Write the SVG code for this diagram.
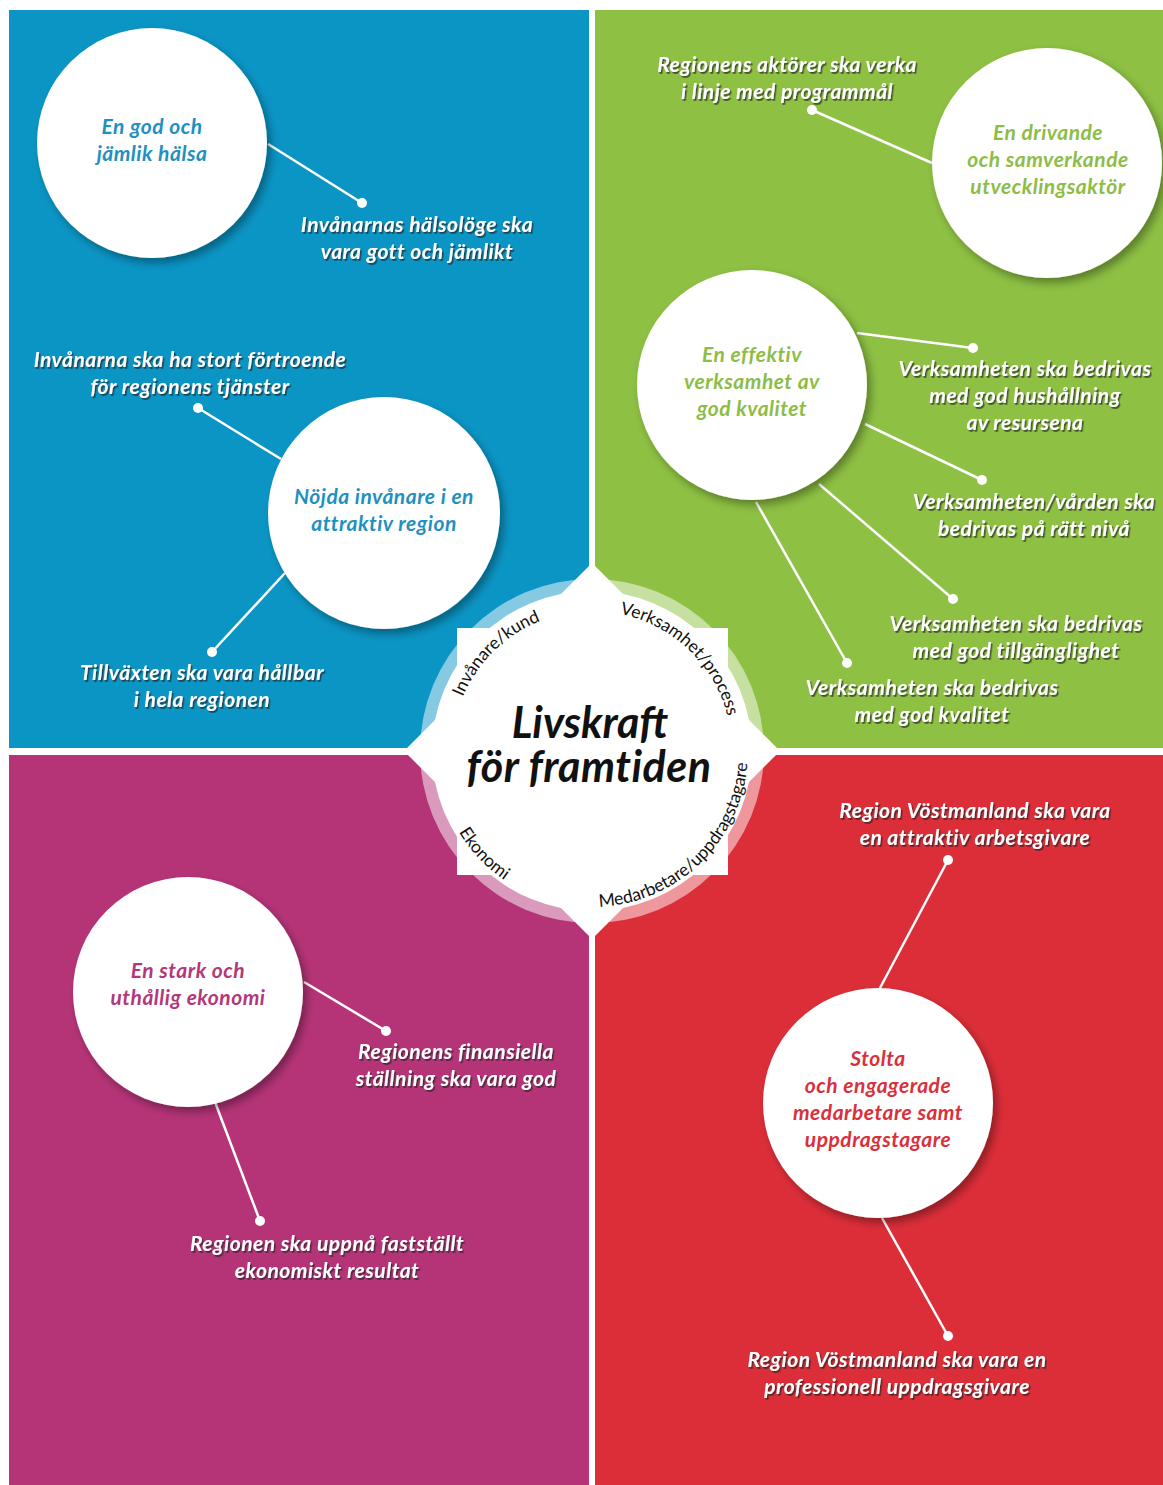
<svg xmlns="http://www.w3.org/2000/svg" width="1163" height="1485" viewBox="0 0 1163 1485">
<defs>
<style>
.goal{font-family:Lato,'Open Sans',sans-serif;font-weight:700;font-style:italic;font-size:21px;letter-spacing:0.5px;fill:#fff;text-anchor:middle}
.title{font-family:Lato,'Open Sans',sans-serif;font-weight:700;font-style:italic;font-size:21px;letter-spacing:0.5px;text-anchor:middle}
.arc{font-family:Lato,'Open Sans',sans-serif;font-size:17.5px;fill:#111}
.big{font-family:Lato,'Open Sans',sans-serif;font-weight:700;font-style:italic;font-size:43px;fill:#111;text-anchor:middle}
.conn line{stroke:#fff;stroke-width:2.5}
.conn circle{fill:#fff}
.node>circle{fill:#fff}
</style>
<filter id="csh" x="-20%" y="-20%" width="150%" height="150%">
<feDropShadow dx="4" dy="5" stdDeviation="4" flood-color="#000" flood-opacity="0.35"/>
</filter>
<filter id="tsh" x="-10%" y="-30%" width="120%" height="160%">
<feDropShadow dx="1.5" dy="1.8" stdDeviation="0.6" flood-color="#222" flood-opacity="0.7"/>
</filter>
<path id="arcTop" d="M 452 751 A 140 140 0 0 1 732 751"/>
<path id="arcBot" d="M 436 751 A 156 156 0 0 0 748 751"/>
</defs>
<rect width="1163" height="1485" fill="#fff"/>
<g id="quadrants">
<rect x="9" y="10" width="580" height="738" fill="#0b95c5"/>
<rect x="595" y="10" width="568" height="738" fill="#8dc043"/>
<rect x="9" y="755" width="580" height="730" fill="#b53478"/>
<rect x="595" y="755" width="568" height="730" fill="#dc2e39"/>
</g>
<g id="connectors" class="conn">
<line x1="268" y1="144" x2="362" y2="203"/><circle cx="362" cy="203" r="5"/>
<line x1="281" y1="459" x2="198" y2="408"/><circle cx="198" cy="408" r="5"/>
<line x1="285" y1="573" x2="212" y2="652"/><circle cx="212" cy="652" r="5"/>
<line x1="932" y1="163" x2="812" y2="110"/><circle cx="812" cy="110" r="5"/>
<line x1="857" y1="333" x2="973" y2="348"/><circle cx="973" cy="348" r="5"/>
<line x1="865" y1="424" x2="982" y2="480"/><circle cx="982" cy="480" r="5"/>
<line x1="819" y1="484" x2="953" y2="599"/><circle cx="953" cy="599" r="5"/>
<line x1="756" y1="502" x2="847" y2="663"/><circle cx="847" cy="663" r="5"/>
<line x1="304" y1="982" x2="386" y2="1031"/><circle cx="386" cy="1031" r="5"/>
<line x1="215" y1="1102" x2="260" y2="1221"/><circle cx="260" cy="1221" r="5"/>
<line x1="880" y1="988" x2="948" y2="860"/><circle cx="948" cy="860" r="5"/>
<line x1="882" y1="1218" x2="948" y2="1336"/><circle cx="948" cy="1336" r="5"/>
</g>
<g id="center">
<circle cx="592" cy="751" r="172" fill="#fff" fill-opacity="0.5"/>
<circle cx="592" cy="751" r="160" fill="#fff"/>
<rect x="457" y="628" width="271" height="247" fill="#fff"/>
<polygon points="592,563 780,751 592,939 404,751" fill="#fff"/>
<text class="arc"><textPath href="#arcTop" startOffset="25.3%" text-anchor="middle">Invånare/kund</textPath></text>
<text class="arc"><textPath href="#arcTop" startOffset="74.2%" text-anchor="middle">Verksamhet/process</textPath></text>
<text class="arc"><textPath href="#arcBot" startOffset="24.2%" text-anchor="middle">Ekonomi</textPath></text>
<text class="arc"><textPath href="#arcBot" startOffset="74.5%" text-anchor="middle">Medarbetare/uppdragstagare</textPath></text>
<text class="big" x="590" y="738">Livskraft</text>
<text class="big" x="589" y="782" letter-spacing="0.5">för framtiden</text>
</g>
<g id="node-halsa" class="node">
<circle cx="152" cy="143" r="115" filter="url(#csh)"/>
<text class="title" fill="#1f90c0"><tspan x="152" y="134">En god och</tspan><tspan x="152" y="161">jämlik hälsa</tspan></text>
</g>
<g id="node-nojda" class="node">
<circle cx="384" cy="513" r="116" filter="url(#csh)"/>
<text class="title" fill="#1f90c0"><tspan x="384" y="504">Nöjda invånare i en</tspan><tspan x="384" y="531">attraktiv region</tspan></text>
</g>
<g id="node-drivande" class="node">
<circle cx="1047" cy="163" r="115" filter="url(#csh)"/>
<text class="title" fill="#8dbd46"><tspan x="1048" y="140">En drivande</tspan><tspan x="1048" y="167">och samverkande</tspan><tspan x="1048" y="194">utvecklingsaktör</tspan></text>
</g>
<g id="node-effektiv" class="node">
<circle cx="752" cy="385" r="115" filter="url(#csh)"/>
<text class="title" fill="#8dbd46"><tspan x="752" y="362">En effektiv</tspan><tspan x="752" y="389">verksamhet av</tspan><tspan x="752" y="416">god kvalitet</tspan></text>
</g>
<g id="node-ekonomi" class="node">
<circle cx="188" cy="992" r="115" filter="url(#csh)"/>
<text class="title" fill="#b3377b"><tspan x="188" y="978">En stark och</tspan><tspan x="188" y="1005">uthållig ekonomi</tspan></text>
</g>
<g id="node-stolta" class="node">
<circle cx="878" cy="1103" r="115" filter="url(#csh)"/>
<text class="title" fill="#d9303b"><tspan x="878" y="1066">Stolta</tspan><tspan x="878" y="1093">och engagerade</tspan><tspan x="878" y="1120">medarbetare samt</tspan><tspan x="878" y="1147">uppdragstagare</tspan></text>
</g>
<g id="goals" filter="url(#tsh)">
<g id="goal-halsolage"><text class="goal"><tspan x="417" y="232">Invånarnas hälsolöge ska</tspan><tspan x="417" y="259">vara gott och jämlikt</tspan></text></g>
<g id="goal-fortroende"><text class="goal"><tspan x="190" y="367">Invånarna ska ha stort förtroende</tspan><tspan x="190" y="394">för regionens tjänster</tspan></text></g>
<g id="goal-tillvaxt"><text class="goal"><tspan x="202" y="680">Tillväxten ska vara hållbar</tspan><tspan x="202" y="707">i hela regionen</tspan></text></g>
<g id="goal-aktorer"><text class="goal"><tspan x="787" y="72">Regionens aktörer ska verka</tspan><tspan x="787" y="99">i linje med programmål</tspan></text></g>
<g id="goal-hushallning"><text class="goal"><tspan x="1025" y="376">Verksamheten ska bedrivas</tspan><tspan x="1025" y="403">med god hushållning</tspan><tspan x="1025" y="430">av resursena</tspan></text></g>
<g id="goal-niva"><text class="goal"><tspan x="1034" y="509">Verksamheten/vården ska</tspan><tspan x="1034" y="536">bedrivas på rätt nivå</tspan></text></g>
<g id="goal-tillganglighet"><text class="goal"><tspan x="1016" y="631">Verksamheten ska bedrivas</tspan><tspan x="1016" y="658">med god tillgänglighet</tspan></text></g>
<g id="goal-kvalitet"><text class="goal"><tspan x="932" y="695">Verksamheten ska bedrivas</tspan><tspan x="932" y="722">med god kvalitet</tspan></text></g>
<g id="goal-finansiella"><text class="goal"><tspan x="456" y="1059">Regionens finansiella</tspan><tspan x="456" y="1086">ställning ska vara god</tspan></text></g>
<g id="goal-resultat"><text class="goal"><tspan x="327" y="1251">Regionen ska uppnå fastställt</tspan><tspan x="327" y="1278">ekonomiskt resultat</tspan></text></g>
<g id="goal-arbetsgivare"><text class="goal"><tspan x="975" y="818">Region Vöstmanland ska vara</tspan><tspan x="975" y="845">en attraktiv arbetsgivare</tspan></text></g>
<g id="goal-uppdragsgivare"><text class="goal"><tspan x="897" y="1367">Region Vöstmanland ska vara en</tspan><tspan x="897" y="1394">professionell uppdragsgivare</tspan></text></g>
</g>
</svg>
